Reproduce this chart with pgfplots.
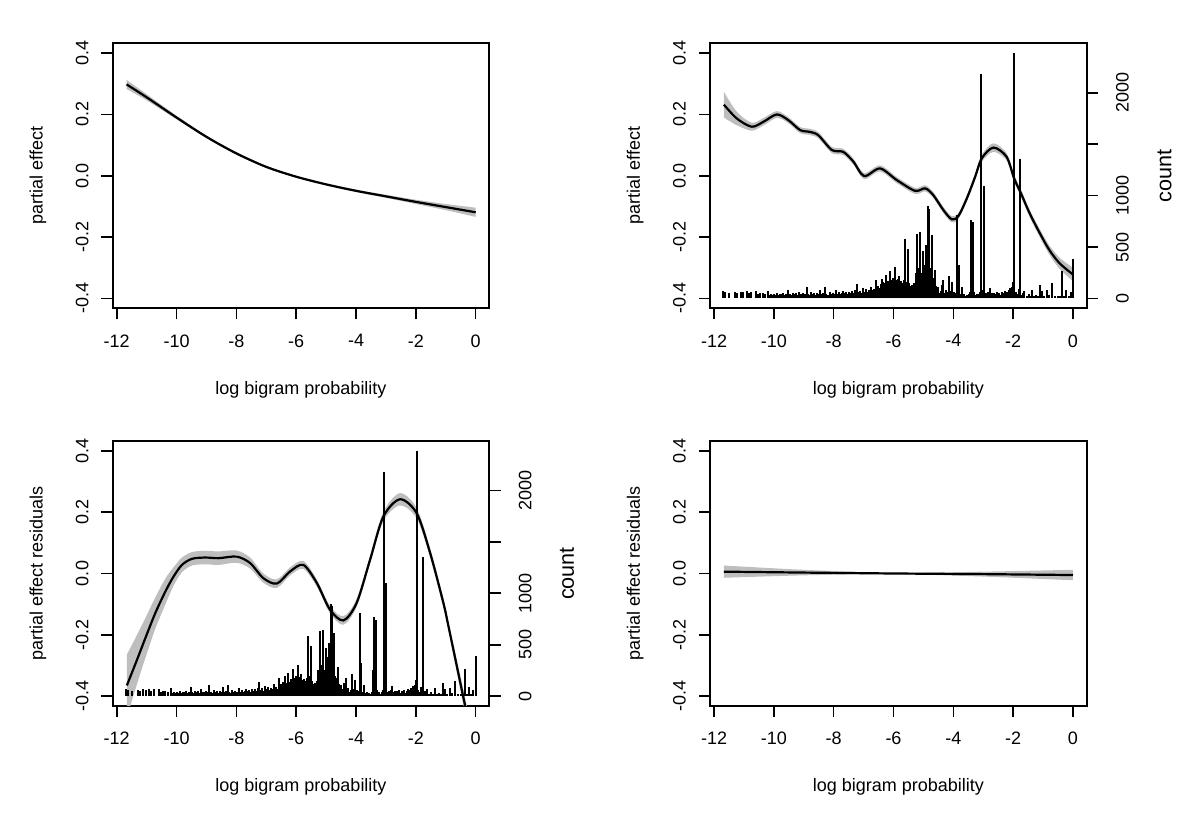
\documentclass[border=0pt]{standalone}
\usepackage{fontspec}
\setmainfont{Liberation Sans}
\usepackage{pgfplots}
\pgfplotsset{compat=1.18}
\usepackage{pgfplotstable}
\usepgfplotslibrary{fillbetween}
\definecolor{band}{RGB}{190,190,190}

\pgfplotstableread{
x y lo hi
-11.67 0.298 0.283 0.313
-11.0 0.256 0.246 0.266
-10.0 0.190 0.184 0.196
-9.0 0.127 0.123 0.131
-8.0 0.073 0.069 0.077
-7.0 0.029 0.026 0.032
-6.0 -0.003 -0.006 0.000
-5.0 -0.028 -0.031 -0.025
-4.0 -0.049 -0.053 -0.045
-3.0 -0.067 -0.072 -0.062
-2.0 -0.085 -0.092 -0.078
-1.0 -0.102 -0.112 -0.092
0.0 -0.119 -0.134 -0.104
}\tlcurve

\pgfplotstableread{
x y lo hi
-11.67 0.232 0.190 0.274
-11.24 0.187 0.165 0.209
-10.74 0.160 0.147 0.173
-10.35 0.176 0.164 0.188
-9.90 0.200 0.189 0.211
-9.51 0.181 0.171 0.191
-9.12 0.149 0.139 0.159
-8.79 0.143 0.133 0.153
-8.51 0.132 0.122 0.142
-8.06 0.084 0.074 0.094
-7.68 0.078 0.068 0.088
-7.34 0.046 0.036 0.056
-6.98 -0.001 -0.011 0.009
-6.45 0.024 0.014 0.034
-5.89 -0.014 -0.024 -0.004
-5.28 -0.049 -0.059 -0.039
-4.94 -0.041 -0.051 -0.031
-4.67 -0.063 -0.073 -0.053
-4.33 -0.112 -0.122 -0.102
-4.05 -0.142 -0.152 -0.132
-3.83 -0.131 -0.141 -0.121
-3.55 -0.074 -0.084 -0.064
-3.27 -0.003 -0.014 0.008
-3.05 0.057 0.045 0.069
-2.66 0.092 0.078 0.106
-2.22 0.062 0.050 0.074
-1.97 -0.008 -0.020 0.004
-1.74 -0.057 -0.069 -0.045
-1.45 -0.122 -0.134 -0.110
-1.11 -0.187 -0.200 -0.174
-0.79 -0.242 -0.257 -0.227
-0.45 -0.285 -0.303 -0.267
0.00 -0.322 -0.344 -0.300
}\trcurve

\pgfplotstableread{
x y lo hi
-11.66 -0.365 -0.470 -0.264
-11.32 -0.281 -0.360 -0.200
-11.04 -0.210 -0.275 -0.145
-10.71 -0.129 -0.180 -0.078
-10.37 -0.058 -0.100 -0.016
-10.10 -0.010 -0.040 0.020
-9.82 0.028 0.004 0.052
-9.48 0.048 0.026 0.070
-9.04 0.052 0.030 0.074
-8.59 0.050 0.028 0.072
-7.99 0.055 0.035 0.075
-7.54 0.034 0.016 0.052
-7.10 -0.015 -0.030 0.000
-6.65 -0.033 -0.047 -0.019
-6.20 0.007 -0.006 0.020
-5.76 0.028 0.015 0.041
-5.31 -0.031 -0.043 -0.019
-4.87 -0.118 -0.130 -0.106
-4.42 -0.153 -0.167 -0.139
-3.98 -0.096 -0.109 -0.083
-3.53 0.045 0.032 0.058
-3.09 0.185 0.170 0.200
-2.53 0.242 0.222 0.262
-1.97 0.196 0.179 0.213
-1.52 0.066 0.051 0.081
-1.08 -0.096 -0.111 -0.081
-0.91 -0.172 -0.187 -0.157
-0.35 -0.433 -0.460 -0.406
0.0 -0.600 -0.640 -0.560
}\blcurve

\pgfplotstableread{
x y lo hi
-11.67 0.006 -0.014 0.026
-9.0 0.003 -0.006 0.012
-6.0 0.000 -0.002 0.002
-3.0 -0.002 -0.010 0.006
0.0 -0.005 -0.022 0.012
}\brcurve

\pgfplotstableread{
x c
-11.69 70
-11.62 60
-11.49 55
-11.30 60
-11.22 55
-11.11 65
-11.02 60
-10.91 70
-10.84 55
-10.75 65
-10.60 70
-10.52 45
-10.46 55
-10.37 50
-10.29 45
-10.19 75
-10.14 30
-10.09 45
-10.04 35
-9.99 40
-9.94 30
-9.89 50
-9.84 35
-9.79 45
-9.74 40
-9.69 55
-9.64 35
-9.59 45
-9.52 87
-9.47 40
-9.42 35
-9.37 55
-9.32 40
-9.27 50
-9.22 35
-9.17 65
-9.12 40
-9.07 45
-9.02 55
-8.96 40
-8.90 107
-8.85 45
-8.80 35
-8.75 60
-8.70 40
-8.65 50
-8.60 35
-8.55 55
-8.50 45
-8.46 87
-8.40 40
-8.35 50
-8.29 107
-8.24 45
-8.18 35
-8.13 60
-8.08 40
-8.03 55
-7.98 45
-7.92 80
-7.87 40
-7.82 60
-7.77 45
-7.72 55
-7.68 74
-7.63 50
-7.58 60
-7.53 45
-7.48 65
-7.43 55
-7.38 70
-7.33 50
-7.28 80
-7.23 139
-7.18 60
-7.13 75
-7.08 55
-7.03 100
-6.98 65
-6.93 90
-6.88 60
-6.83 80
-6.79 70
-6.75 115
-6.70 80
-6.66 90
-6.62 70
-6.59 178
-6.55 110
-6.51 120
-6.47 100
-6.43 140
-6.39 194
-6.36 160
-6.32 130
-6.29 150
-6.26 226
-6.22 140
-6.18 170
-6.15 150
-6.11 268
-6.08 180
-6.05 160
-6.02 200
-5.98 170
-5.95 307
-5.92 180
-5.89 150
-5.86 190
-5.83 217
-5.80 160
-5.77 140
-5.74 170
-5.71 150
-5.68 130
-5.65 180
-5.62 582
-5.59 160
-5.56 140
-5.53 200
-5.50 485
-5.47 150
-5.44 120
-5.41 100
-5.38 130
-5.35 110
-5.32 150
-5.29 120
-5.26 250
-5.22 631
-5.19 180
-5.16 140
-5.14 300
-5.11 647
-5.08 170
-5.05 250
-5.02 466
-4.99 200
-4.96 330
-4.93 380
-4.91 518
-4.88 420
-4.85 896
-4.82 600
-4.80 873
-4.77 300
-4.74 250
-4.72 615
-4.69 200
-4.66 150
-4.63 180
-4.61 281
-4.58 120
-4.55 90
-4.52 60
-4.50 112
-4.46 50
-4.42 70
-4.39 130
-4.36 60
-4.33 178
-4.30 50
-4.26 80
-4.22 40
-4.18 60
-4.14 220
-4.11 70
-4.08 50
-4.05 161
-4.01 40
-3.97 60
-3.93 30
-3.90 50
-3.88 809
-3.85 120
-3.82 324
-3.79 40
-3.76 30
-3.72 107
-3.68 30
-3.64 40
-3.60 25
-3.56 30
-3.52 20
-3.48 40
-3.44 60
-3.42 250
-3.41 767
-3.38 500
-3.33 744
-3.30 60
-3.26 30
-3.22 40
-3.18 25
-3.14 45
-3.10 60
-3.06 2178
-3.03 80
-2.99 1097
-2.95 40
-2.91 50
-2.87 30
-2.83 60
-2.79 100
-2.75 40
-2.71 55
-2.67 35
-2.63 50
-2.59 40
-2.55 60
-2.51 30
-2.47 50
-2.43 35
-2.39 60
-2.35 30
-2.31 55
-2.27 70
-2.23 40
-2.19 60
-2.15 80
-2.11 100
-2.07 90
-2.04 110
-2.01 161
-1.97 2385
-1.92 60
-1.87 40
-1.82 90
-1.77 1352
-1.72 30
-1.68 50
-1.63 70
-1.55 20
-1.48 40
-1.42 25
-1.37 80
-1.30 20
-1.23 30
-1.17 25
-1.10 130
-1.03 70
-0.96 20
-0.87 80
-0.80 30
-0.69 150
-0.60 20
-0.50 25
-0.43 20
-0.37 268
-0.30 20
-0.22 85
-0.15 25
-0.08 60
0.00 388
}\hist

\newcommand{\labfont}{\fontsize{9}{10.8}\selectfont}

\pgfplotsset{
  geom/.style={scale only axis, width=188.3pt, height=132.5pt, anchor=south west,
    xmin=-12.134, xmax=0.455, clip=true},
  panel/.style={geom,
    ymin=-0.432, ymax=0.432,
    xtick={-12,-10,-8,-6,-4,-2,0},
    xticklabels={-12,-10,-8,-6,-4,-2,0},
    ytick={-0.4,-0.2,0,0.2,0.4},
    yticklabels={-0.4,-0.2,0.0,0.2,0.4},
    xtick pos=left, ytick pos=left,
    tick align=outside, major tick length=5.6pt,
    every tick/.style={black, line width=0.8pt},
    axis line style={black, line width=0.9pt},
    tick label style={font=\labfont},
    yticklabel style={rotate=90, anchor=south},
    xticklabel shift=4pt, yticklabel shift=3pt,
    xlabel={log bigram probability},
    every axis x label/.style={at={(axis description cs:0.5,0)}, yshift=-40.6pt, anchor=center, font=\labfont},
    every axis y label/.style={at={(axis description cs:0,0.5)}, xshift=-37.4pt, rotate=90, anchor=center, font=\labfont},
  },
  countpanel/.style={geom,
    ymin=-95.4, ymax=2480.4,
    axis x line=none, axis y line*=right,
    ytick={0,500,1000,1500,2000},
    yticklabels={0,500,1000,,2000},
    tick align=outside, major tick length=5.6pt,
    every tick/.style={black, line width=0.8pt},
    axis line style={black, line width=0.9pt},
    tick label style={font=\labfont},
    yticklabel style={rotate=90, anchor=north},
    yticklabel shift=5.6pt,
    ylabel={count},
    every axis y label/.style={at={(axis description cs:1,0.5)}, xshift=38.9pt, rotate=90, anchor=center, font=\fontsize{10.8}{13}\selectfont},
  },
  curve/.style={black, line width=1.1pt, smooth},
  bandedge/.style={draw=none, smooth},
}

\begin{document}
\begin{tikzpicture}

% top left
\begin{axis}[panel, at={(56.35pt,255.35pt)}, ylabel={partial effect}]
\addplot[bandedge, name path=A] table[x=x,y=hi]{\tlcurve};
\addplot[bandedge, name path=B] table[x=x,y=lo]{\tlcurve};
\addplot[band, draw=none] fill between[of=A and B];
\addplot[curve] table[x=x,y=y]{\tlcurve};
\end{axis}

% top right
\begin{axis}[panel, at={(355pt,255.35pt)}, ylabel={partial effect}]
\addplot[bandedge, name path=A] table[x=x,y=hi]{\trcurve};
\addplot[bandedge, name path=B] table[x=x,y=lo]{\trcurve};
\addplot[band, draw=none] fill between[of=A and B];
\addplot[curve] table[x=x,y=y]{\trcurve};
\end{axis}
\begin{axis}[countpanel, at={(355pt,255.35pt)}]
\addplot[ycomb, black, line width=1pt, no marks] table[x=x,y=c]{\hist};
\end{axis}

% bottom left
\begin{axis}[panel, at={(56.35pt,56.5pt)}, ylabel={partial effect residuals}]
\addplot[bandedge, name path=A] table[x=x,y=hi]{\blcurve};
\addplot[bandedge, name path=B] table[x=x,y=lo]{\blcurve};
\addplot[band, draw=none] fill between[of=A and B];
\addplot[curve] table[x=x,y=y]{\blcurve};
\end{axis}
\begin{axis}[countpanel, at={(56.35pt,56.5pt)}]
\addplot[ycomb, black, line width=1pt, no marks] table[x=x,y=c]{\hist};
\end{axis}

% bottom right
\begin{axis}[panel, at={(355pt,56.5pt)}, ylabel={partial effect residuals}]
\addplot[bandedge, name path=A] table[x=x,y=hi]{\brcurve};
\addplot[bandedge, name path=B] table[x=x,y=lo]{\brcurve};
\addplot[band, draw=none] fill between[of=A and B];
\addplot[black, line width=1.1pt] table[x=x,y=y]{\brcurve};
\end{axis}

\pgfresetboundingbox
\useasboundingbox (0,0) rectangle (600pt,409.5pt);
\end{tikzpicture}
\end{document}
